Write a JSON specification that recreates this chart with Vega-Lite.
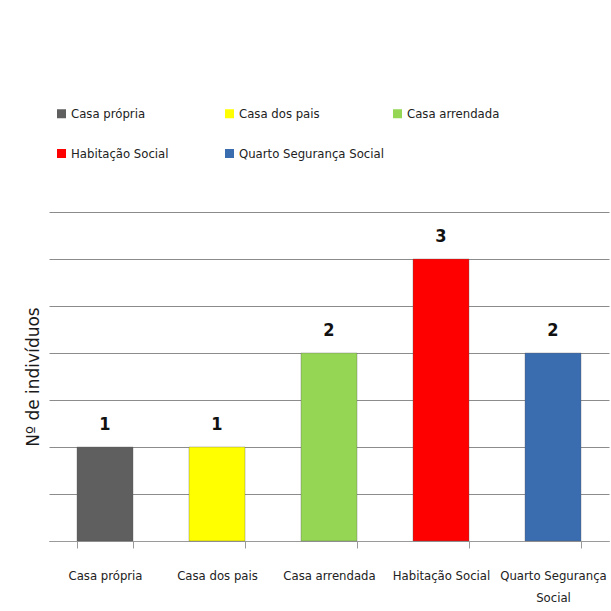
{
  "$schema": "https://vega.github.io/schema/vega-lite/v6.json",
  "autosize": "none",
  "width": 560,
  "height": 329,
  "padding": {"left": 49, "top": 212, "right": 2, "bottom": 70},
  "background": "white",
  "data": {
    "values": [
      {"categoria": "Casa própria", "n": 1},
      {"categoria": "Casa dos pais", "n": 1},
      {"categoria": "Casa arrendada", "n": 2},
      {"categoria": "Habitação Social", "n": 3},
      {"categoria": "Quarto Segurança Social", "n": 2}
    ]
  },
  "encoding": {
    "x": {
      "field": "categoria",
      "type": "nominal",
      "sort": null,
      "scale": {"paddingInner": 0.5, "paddingOuter": 0.25},
      "axis": {
        "title": null,
        "labelAngle": 0,
        "labelFont": "DejaVu Sans Condensed",
        "labelFontSize": 13,
        "labelColor": "#222222",
        "labelPadding": 21,
        "labelLimit": 200,
        "labelExpr": "datum.label == 'Quarto Segurança Social' ? ['Quarto Segurança', 'Social'] : datum.label",
        "labelLineHeight": 22,
        "bandPosition": 0,
        "tickBand": "extent",
        "ticks": true,
        "tickColor": "#9a9a9a",
        "tickSize": 7,
        "domainColor": "#9a9a9a",
        "grid": false
      }
    },
    "y": {
      "field": "n",
      "type": "quantitative",
      "scale": {"domain": [0, 3.5], "nice": false},
      "axis": {
        "title": "Nº de indivíduos",
        "titleFont": "DejaVu Sans",
        "titleFontSize": 17,
        "titleFontWeight": "normal",
        "titleColor": "#1a1a1a",
        "titlePadding": 7,
        "labels": false,
        "ticks": false,
        "domain": false,
        "values": [0, 0.5, 1, 1.5, 2, 2.5, 3, 3.5],
        "grid": true,
        "gridColor": "#8c8c8c",
        "gridWidth": 1
      }
    }
  },
  "layer": [
    {
      "mark": {"type": "bar", "stroke": "#555555", "strokeOpacity": 0.35, "strokeWidth": 1},
      "encoding": {
        "color": {
          "field": "categoria",
          "type": "nominal",
          "sort": null,
          "scale": {
            "domain": ["Casa própria", "Casa dos pais", "Casa arrendada", "Habitação Social", "Quarto Segurança Social"],
            "range": ["#5f5f5f", "#ffff00", "#95d655", "#ff0000", "#3a6db0"]
          },
          "legend": {
            "title": null,
            "orient": "none",
            "legendX": 6,
            "legendY": -105,
            "direction": "horizontal",
            "columns": 3,
            "gridAlign": "all",
            "columnPadding": 7,
            "rowPadding": 26,
            "symbolType": "square",
            "symbolSize": 81,
            "symbolOffset": 0,
            "labelOffset": 3,
            "symbolStrokeWidth": 0,
            "labelFont": "DejaVu Sans Condensed",
            "labelFontSize": 13,
            "labelColor": "#222222",
            "labelLimit": 300
          }
        }
      }
    },
    {
      "mark": {"type": "text", "dy": -22, "font": "DejaVu Sans Condensed", "fontSize": 18, "fontWeight": "bold", "color": "#111111"},
      "encoding": {"text": {"field": "n", "type": "quantitative"}}
    }
  ],
  "config": {"view": {"stroke": null}}
}
